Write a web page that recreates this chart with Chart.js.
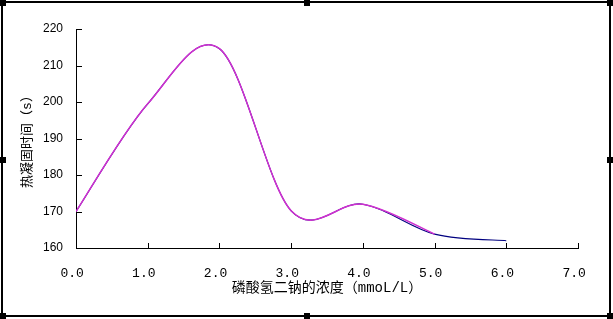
<!DOCTYPE html>
<html>
<head>
<meta charset="utf-8">
<script src="https://cdn.jsdelivr.net/npm/chart.js@4.4.1/dist/chart.umd.min.js"></script>
<style>
  html, body { margin: 0; padding: 0; background: #fff; }
  canvas { display: block; }
</style>
</head>
<body>
<canvas id="chart" width="613" height="319"></canvas>
<script>
// 数据：磷酸氢二钠浓度 (mmol/L) 与 热凝固时间 (s)
const concentrations = [0, 1, 2, 3, 4, 5, 6];
const navySeries = [170, 199.5, 214.6, 170.2, 172, 163.8, 162];
const magentaSeries = [170, 199.5, 214.6, 170.2, 172, 163.8];
const xTickLabels = ['0.0', '1.0', '2.0', '3.0', '4.0', '5.0', '6.0', '7.0'];
const yTickLabels = ['160', '170', '180', '190', '200', '210', '220'];

const toPoints = (values) => values.map((v, i) => ({ x: concentrations[i], y: v }));

// Excel-style smoothing: control points at +/- (next - prev) / 6
const excelSmooth = {
    id: 'excelSmooth',
    beforeDatasetDraw(chart, args) {
        const meta = args.meta;
        const pts = meta.data;
        const n = pts.length;
        for (let i = 0; i < n; i++) {
            const prev = pts[Math.max(i - 1, 0)];
            const next = pts[Math.min(i + 1, n - 1)];
            const dx = (next.x - prev.x) / 6;
            const dy = (next.y - prev.y) / 6;
            pts[i].cp1x = pts[i].x - dx;
            pts[i].cp1y = pts[i].y - dy;
            pts[i].cp2x = pts[i].x + dx;
            pts[i].cp2y = pts[i].y + dy;
        }
        meta.dataset._pointsUpdated = true;
    }
};

// ticks pointing into the plot area, like the original
const innerTicks = {
    id: 'innerTicks',
    afterDraw(chart) {
        const { ctx, chartArea, scales } = chart;
        ctx.save();
        ctx.strokeStyle = '#000';
        ctx.lineWidth = 1;
        ctx.beginPath();
        scales.x.ticks.forEach(t => {
            const px = Math.round(scales.x.getPixelForValue(t.value)) + 0.5;
            ctx.moveTo(px, chartArea.bottom);
            ctx.lineTo(px, chartArea.bottom - 5);
        });
        scales.y.ticks.forEach(t => {
            const py = Math.round(scales.y.getPixelForValue(t.value)) + 0.5;
            ctx.moveTo(chartArea.left, py);
            ctx.lineTo(chartArea.left + 6, py);
        });
        ctx.stroke();
        ctx.restore();
    }
};

// frame with the little selection handles
const frame = {
    id: 'frame',
    afterDraw(chart) {
        const { ctx, width, height } = chart;
        ctx.save();
        ctx.strokeStyle = '#000';
        ctx.lineWidth = 2;
        ctx.strokeRect(2, 2, width - 5, height - 5);
        ctx.fillStyle = '#000';
        const xs = [0, Math.round(width / 2) - 3, width - 6];
        const ys = [0, Math.round(height / 2) - 3, height - 6];
        xs.forEach((x, i) => ys.forEach((y, j) => {
            if (i === 1 && j === 1) return;
            ctx.fillRect(x, y, 6, 6);
        }));
        ctx.restore();
    }
};

const ctx = document.getElementById('chart').getContext('2d');
new Chart(ctx, {
    type: 'line',
    data: {
        datasets: [
            {
                label: 'magenta',
                data: toPoints(magentaSeries),
                borderColor: '#D030D0',
                borderWidth: 1.5,
                pointRadius: 0,
                tension: 0.4,
                fill: false,
                order: 0
            },
            {
                label: 'navy',
                data: toPoints(navySeries),
                borderColor: '#000080',
                borderWidth: 1.1,
                pointRadius: 0,
                tension: 0.4,
                fill: false,
                order: 1
            }
        ]
    },
    options: {
        responsive: false,
        animation: false,
        devicePixelRatio: 1,
        layout: { padding: { left: 0, right: 35, top: 29, bottom: 0 } },
        plugins: {
            legend: { display: false },
            tooltip: { enabled: false }
        },
        scales: {
            x: {
                type: 'linear',
                min: 0,
                max: 7,
                ticks: {
                    stepSize: 1,
                    padding: 18,
                    color: '#000',
                    font: { family: 'Liberation Mono', size: 13 },
                    callback: (v, i) => xTickLabels[i] + ' '
                },
                grid: { display: false, drawTicks: false },
                border: { display: true, color: '#000', width: 1 },
                title: {
                    display: true,
                    text: '磷酸氢二钠的浓度（mmoL/L）',
                    color: '#000',
                    font: { family: "'Liberation Mono', 'Noto Sans CJK SC'", size: 14 },
                    padding: { top: 0, bottom: 22 }
                },
                afterFit(scale) { scale.height = 71; }
            },
            y: {
                min: 160,
                max: 220,
                ticks: {
                    stepSize: 10,
                    padding: 13,
                    color: '#000',
                    font: { family: 'Liberation Sans', size: 12 },
                    callback: (v, i) => yTickLabels[i]
                },
                grid: { display: false, drawTicks: false },
                border: { display: true, color: '#000', width: 1 },
                title: {
                    display: true,
                    text: '热凝固时间（s）',
                    color: '#000',
                    font: { family: "'Liberation Mono', 'Noto Sans CJK SC'", size: 13 },
                    padding: { top: 20, bottom: 0 }
                },
                afterFit(scale) { scale.width = 76; }
            }
        }
    },
    plugins: [excelSmooth, innerTicks, frame]
});
</script>
</body>
</html>
